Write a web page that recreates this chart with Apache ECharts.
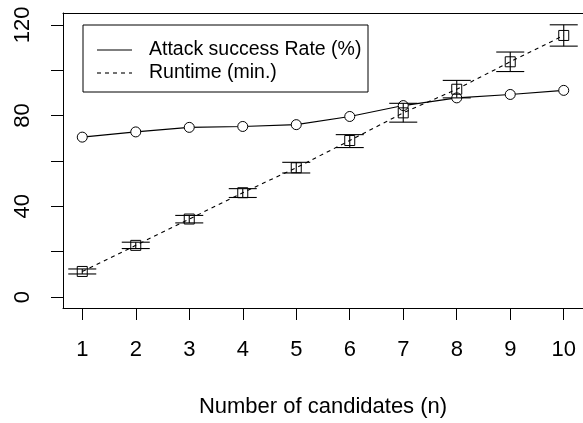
<!DOCTYPE html>
<html>
<head>
<meta charset="utf-8">
<script src="https://cdn.jsdelivr.net/npm/echarts@6/dist/echarts.min.js"></script>
<style>html,body{margin:0;padding:0;background:#fff}#c{width:583px;height:423px}</style>
</head>
<body>
<div id="c"></div>
<script>
var candidates = [1, 2, 3, 4, 5, 6, 7, 8, 9, 10];
var attackRate = [70.5, 72.8, 74.8, 75.2, 76.0, 79.6, 84.4, 87.8, 89.3, 91.1];
var runtime = [11.3, 22.8, 34.4, 46.0, 57.0, 69.0, 81.2, 91.6, 103.7, 115.3];
var runtimeLow = [10.2, 21.4, 32.7, 43.9, 54.7, 65.9, 77.1, 87.8, 99.4, 110.6];
var runtimeHigh = [12.4, 24.2, 36.0, 47.8, 59.4, 71.6, 85.4, 95.5, 108.0, 120.0];
var yTicks = [0, 20, 40, 60, 80, 100, 120];
var yLabels = [0, 40, 80, 120];
var legendNames = ['Attack success Rate (%)', 'Runtime (min.)'];
var xTitle = 'Number of candidates (n)';

var FONT = "'Liberation Sans', Arial, sans-serif";
var FS = 22;
var LFS = 19.5;

var chart = echarts.init(document.getElementById('c'), null, {renderer: 'canvas'});
var attackData = candidates.map(function (x, i) { return [x, attackRate[i]]; });
var runtimeData = candidates.map(function (x, i) { return [x, runtime[i]]; });
var errData = candidates.map(function (x, i) { return [x, runtimeLow[i], runtimeHigh[i]]; });

chart.setOption({
  animation: false,
  backgroundColor: '#fff',
  grid: {left: 63, top: 13, width: 522, height: 300, show: false},
  xAxis: [{
    type: 'value', min: 0.64, max: 10.36, position: 'bottom',
    name: xTitle, nameLocation: 'middle', nameGap: 88,
    nameTextStyle: {fontFamily: FONT, fontSize: FS, color: '#000'},
    axisLine: {show: true, onZero: false, lineStyle: {color: '#000', width: 1}},
    axisTick: {show: true, inside: false, length: 12, customValues: candidates, lineStyle: {color: '#000', width: 1}},
    axisLabel: {customValues: candidates, margin: 31, fontFamily: FONT, fontSize: FS, color: '#000'},
    splitLine: {show: false}
  }, {
    type: 'value', min: 0.64, max: 10.36, position: 'top',
    axisLine: {show: true, onZero: false, lineStyle: {color: '#000', width: 1}},
    axisTick: {show: false}, axisLabel: {show: false}, splitLine: {show: false}
  }],
  yAxis: {
    type: 'value', min: -4.8, max: 125.2,
    axisLine: {show: true, onZero: false, lineStyle: {color: '#000', width: 1}},
    axisTick: {show: true, inside: false, length: 12, customValues: yTicks, lineStyle: {color: '#000', width: 1}},
    axisLabel: {customValues: yLabels, rotate: 90, margin: 29, fontFamily: FONT, fontSize: FS, color: '#000'},
    splitLine: {show: false}
  },
  series: [
    {
      name: legendNames[0], type: 'line', data: attackData,
      symbol: 'circle', symbolSize: 10,
      lineStyle: {color: '#000', width: 1.1},
      itemStyle: {color: '#fff', borderColor: '#000', borderWidth: 1},
      z: 3
    },
    {
      name: legendNames[1], type: 'line', data: runtimeData,
      symbol: 'rect', symbolSize: 10,
      lineStyle: {color: '#000', width: 1.1, type: [4, 4]},
      itemStyle: {color: 'transparent', borderColor: '#000', borderWidth: 1},
      z: 4
    },
    {
      type: 'custom', name: 'err', data: errData,
      renderItem: function (params, api) {
        var x = api.value(0);
        var lo = api.coord([x, api.value(1)]);
        var hi = api.coord([x, api.value(2)]);
        var w = 14;
        var st = {stroke: '#000', lineWidth: 1.1};
        return {
          type: 'group',
          children: [
            {type: 'line', shape: {x1: lo[0], y1: lo[1], x2: hi[0], y2: hi[1]}, style: st},
            {type: 'line', shape: {x1: lo[0] - w, y1: lo[1], x2: lo[0] + w, y2: lo[1]}, style: st},
            {type: 'line', shape: {x1: hi[0] - w, y1: hi[1], x2: hi[0] + w, y2: hi[1]}, style: st}
          ]
        };
      },
      z: 5
    }
  ],
  graphic: [
    {type: 'rect', shape: {x: 83, y: 25, width: 285, height: 67}, style: {fill: '#fff', stroke: '#000', lineWidth: 1}, z: 10},
    {type: 'line', shape: {x1: 97, y1: 50, x2: 132, y2: 50}, style: {stroke: '#000', lineWidth: 1.1}, z: 11},
    {type: 'line', shape: {x1: 97, y1: 73, x2: 132, y2: 73}, style: {stroke: '#000', lineWidth: 1.1, lineDash: [4, 4]}, z: 11},
    {type: 'text', x: 149, y: 50, style: {text: legendNames[0], fill: '#000', font: LFS + 'px ' + FONT, textVerticalAlign: 'middle'}, z: 11},
    {type: 'text', x: 149, y: 73, style: {text: legendNames[1], fill: '#000', font: LFS + 'px ' + FONT, textVerticalAlign: 'middle'}, z: 11}
  ]
});
</script>
</body>
</html>
